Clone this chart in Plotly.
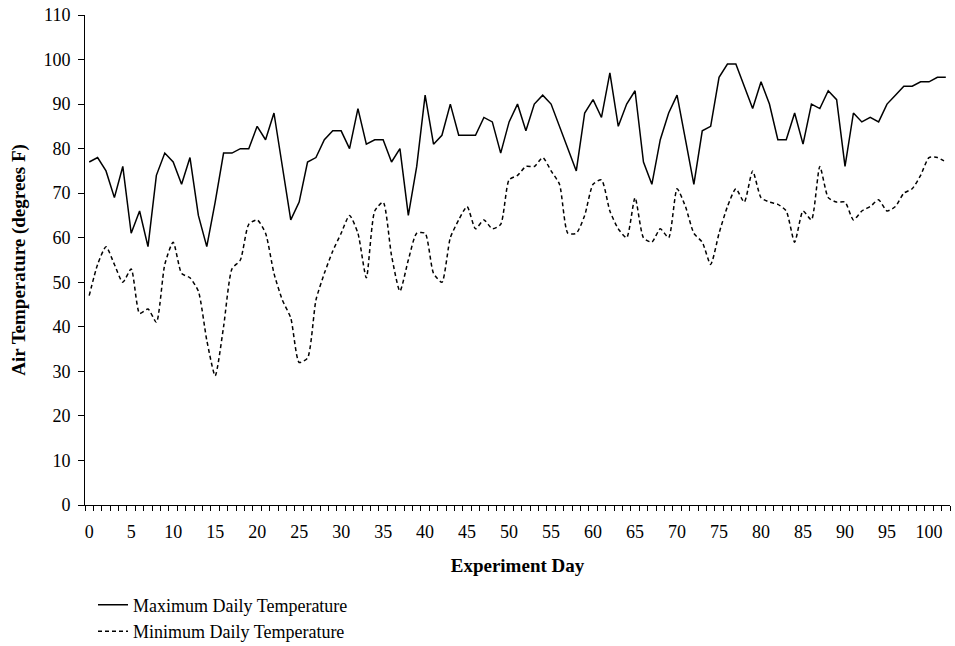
import plotly.graph_objects as go

days = list(range(0, 103))

max_temp = [77, 78, 75, 69, 76, 61, 66, 58, 74, 79,
            77, 72, 78, 65, 58, 68, 79, 79, 80, 80,
            85, 82, 88, 76, 64, 68, 77, 78, 82, 84,
            84, 80, 89, 81, 82, 82, 77, 80, 65, 76,
            92, 81, 83, 90, 83, 83, 83, 87, 86, 79,
            86, 90, 84, 90, 92, 90, 85, 80, 75, 88,
            91, 87, 97, 85, 90, 93, 77, 72, 82, 88,
            92, 82, 72, 84, 85, 96, 99, 99, 94, 89,
            95, 90, 82, 82, 88, 81, 90, 89, 93, 91,
            76, 88, 86, 87, 86, 90, 92, 94, 94, 95,
            95, 96, 96]

min_temp = [47, 54, 58, 54, 50, 53, 43, 44, 41, 54,
            59, 52, 51, 48, 37, 29, 40, 53, 55, 63,
            64, 61, 52, 46, 42, 32, 33, 46, 52, 57,
            61, 65, 61, 51, 66, 68, 56, 48, 55, 61,
            61, 52, 50, 60, 64, 67, 62, 64, 62, 63,
            73, 74, 76, 76, 78, 75, 72, 61, 61, 65,
            72, 73, 66, 62, 60, 69, 60, 59, 62, 60,
            71, 67, 61, 59, 54, 61, 67, 71, 68, 75,
            69, 68, 67.5, 66, 59, 66, 64, 76, 69, 68,
            68, 64, 66, 67, 68.5, 66, 67, 70, 71, 74,
            78, 78, 77]

y_ticks = list(range(0, 111, 10))
x_ticks = list(range(0, 101, 5))

FONT = "Liberation Serif, Times New Roman, serif"

fig = go.Figure()
fig.add_trace(go.Scatter(
    x=days, y=max_temp, mode="lines",
    name="Maximum Daily Temperature", legendgroup="a",
    line=dict(color="black", width=1.5),
))
fig.add_trace(go.Scatter(
    x=days, y=min_temp, mode="lines",
    name="Minimum Daily Temperature", legendgroup="b",
    line=dict(color="black", width=1.5, dash="4px,3px", shape="spline", smoothing=0.6),
))

fig.update_layout(
    width=955, height=646,
    margin=dict(l=85, r=5, t=15, b=141, autoexpand=False),
    paper_bgcolor="white", plot_bgcolor="white",
    font=dict(family=FONT, size=18, color="black"),
    showlegend=True,
    legend=dict(
        x=0.00925, y=-0.2951, xanchor="left", yanchor="bottom",
        orientation="v",
        font=dict(family=FONT, size=18, color="black"),
        bgcolor="rgba(0,0,0,0)",
        itemwidth=30,
        tracegroupgap=0,
    ),
)

fig.update_xaxes(
    range=[-0.5, 102.5],
    tickmode="array", tickvals=x_ticks, ticktext=[str(v) for v in x_ticks],
    ticks="", showgrid=False, zeroline=False,
    showline=True, linecolor="black", linewidth=1,
    minor=dict(ticks="outside", tickmode="linear", tick0=0.5, dtick=1,
               ticklen=5, tickcolor="black", tickwidth=1, showgrid=False),
    ticklabelstandoff=10,
    tickfont=dict(family=FONT, size=18),
    title=dict(text="<b>Experiment Day</b>", font=dict(family=FONT, size=19), standoff=18),
)
fig.update_yaxes(
    range=[0, 110],
    tickmode="array", tickvals=y_ticks,
    ticks="outside", ticklen=6, tickcolor="black", tickwidth=1,
    ticklabelstandoff=4,
    showgrid=False, zeroline=False,
    showline=True, linecolor="black", linewidth=1,
    tickfont=dict(family=FONT, size=18),
    title=dict(text="<b>Air Temperature (degrees F)</b>", font=dict(family=FONT, size=19), standoff=12),
)

fig.write_html(
    "out.html",
    config={"displayModeBar": False},
    post_script="document.body.style.margin='0';document.body.style.overflow='hidden';",
)
